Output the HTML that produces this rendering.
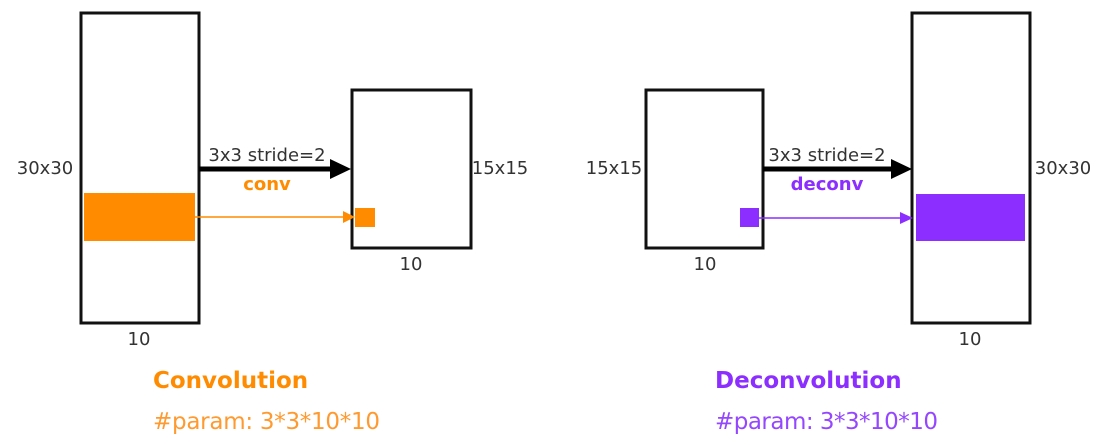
<!DOCTYPE html>
<html><head><meta charset="utf-8"><style>
html,body{margin:0;padding:0;background:#fff;}
svg{display:block;font-family:"DejaVu Sans","Liberation Sans",sans-serif;}
</style></head><body>
<svg width="1112" height="445" viewBox="0 0 1112 445">
<g>
<rect x="81" y="13" width="118" height="310" fill="none" stroke="#111" stroke-width="3"/>
<rect x="84" y="193" width="111" height="48" fill="#FF8C00"/>
<rect x="352" y="90" width="119" height="158" fill="none" stroke="#111" stroke-width="3"/>
<rect x="355" y="208" width="20" height="19" fill="#FF8C00"/>
<line x1="199" y1="169" x2="332" y2="169" stroke="#000" stroke-width="5"/>
<polygon points="330,159 351,169 330,179" fill="#000"/>
<line x1="195" y1="217" x2="344" y2="217" stroke="#FF8C00" stroke-width="1.5"/>
<polygon points="343,211 355,217 343,223" fill="#FF8C00"/>
<text x="45" y="174" font-size="18" fill="#333" text-anchor="middle">30x30</text>
<text x="267" y="161" font-size="18" fill="#333" text-anchor="middle">3x3 stride=2</text>
<text x="267" y="190" font-size="18" font-weight="bold" fill="#FF8C00" text-anchor="middle">conv</text>
<text x="500" y="174" font-size="18" fill="#333" text-anchor="middle">15x15</text>
<text x="411" y="270" font-size="18" fill="#333" text-anchor="middle">10</text>
<text x="139" y="345" font-size="18" fill="#333" text-anchor="middle">10</text>
<text x="153" y="388" font-size="23" font-weight="bold" fill="#FF8C00">Convolution</text>
<text x="153" y="429" font-size="23" fill="#FF9A30" textLength="227">#param: 3*3*10*10</text>
</g>
<g>
<rect x="646" y="90" width="117" height="158" fill="none" stroke="#111" stroke-width="3"/>
<rect x="740" y="208" width="19" height="19" fill="#8B2EFF"/>
<rect x="912" y="13" width="118" height="310" fill="none" stroke="#111" stroke-width="3"/>
<rect x="916" y="194" width="109" height="47" fill="#8B2EFF"/>
<line x1="763" y1="169" x2="893" y2="169" stroke="#000" stroke-width="5"/>
<polygon points="891,159 912,169 891,179" fill="#000"/>
<line x1="759" y1="218" x2="902" y2="218" stroke="#8B2EFF" stroke-width="1.5"/>
<polygon points="900,212 913,218 900,224" fill="#8B2EFF"/>
<text x="614" y="174" font-size="18" fill="#333" text-anchor="middle">15x15</text>
<text x="827" y="161" font-size="18" fill="#333" text-anchor="middle">3x3 stride=2</text>
<text x="827" y="190" font-size="18" font-weight="bold" fill="#8B2EFF" text-anchor="middle">deconv</text>
<text x="1063" y="174" font-size="18" fill="#333" text-anchor="middle">30x30</text>
<text x="705" y="270" font-size="18" fill="#333" text-anchor="middle">10</text>
<text x="970" y="345" font-size="18" fill="#333" text-anchor="middle">10</text>
<text x="715" y="388" font-size="23" font-weight="bold" fill="#8B2EFF">Deconvolution</text>
<text x="715" y="429" font-size="23" fill="#9547FF" textLength="223">#param: 3*3*10*10</text>
</g>
</svg>
</body></html>
